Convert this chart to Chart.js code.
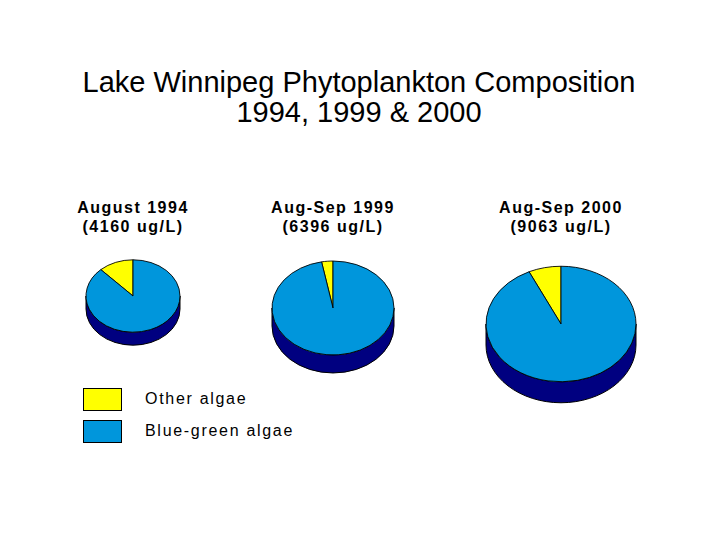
<!DOCTYPE html>
<html>
<head>
<meta charset="utf-8">
<script src="https://cdn.jsdelivr.net/npm/chart.js@4.4.1/dist/chart.umd.min.js"></script>
<style>
  body { margin: 0; background: #fff; }
  #page { position: relative; width: 720px; height: 540px; overflow: hidden; background: #fff;
          font-family: "Liberation Sans", Arial, sans-serif; color: #000; }
  .title { position: absolute; left: 0; width: 718px; text-align: center; font-size: 29px; line-height: 30px; }
  .sub { position: absolute; width: 200px; text-align: center; font-size: 16px; font-weight: bold;
         line-height: 19px; letter-spacing: 1.5px; }
  .pie { position: absolute; }
  .box { position: absolute; left: 83px; width: 37px; border: 1px solid #000; }
  .leg { position: absolute; left: 145px; font-size: 16px; line-height: 20px; letter-spacing: 1.7px; }
</style>
</head>
<body>
<div id="page">
  <div class="title" style="top:67px">Lake Winnipeg Phytoplankton Composition<br>1994, 1999 &amp; 2000</div>
  <div id="subs"></div>
  <canvas id="pie0" class="pie"></canvas>
  <canvas id="pie1" class="pie"></canvas>
  <canvas id="pie2" class="pie"></canvas>
  <div id="legend"></div>
</div>
<script>
// --- Data ---
const periods = ['August 1994', 'Aug-Sep 1999', 'Aug-Sep 2000'];
const totals = [4160, 6396, 9063];            // ug/L
const categories = ['Other algae', 'Blue-green algae'];
const otherAlgae = [12, 3, 7];                // percent of total
const blueGreenAlgae = [88, 97, 93];          // percent of total
const sliceColors = ['#ffff00', '#0096dc'];

// --- Layout (where each pie sits on the page) ---
const pieCenters = [[133, 296], [333, 308], [561, 324]];
const pieRadius = [47, 61, 75];
const pieDepth = [13, 18, 21];
const squash = 0.77;
const pad = 20;

// fake the 3D look: draw the rim, then squash the top face
const tiltPlugin = {
  id: 'tilt',
  beforeDatasetsDraw(chart, args, opts) {
    const arc = chart.getDatasetMeta(0).data[0];
    const ctx = chart.ctx;
    const cx = arc.x, cy = arc.y, r = arc.outerRadius;
    const ry = r * opts.squash, d = opts.depth;

    ctx.save();
    ctx.beginPath();
    ctx.moveTo(cx - r, cy);
    ctx.lineTo(cx - r, cy + d);
    ctx.ellipse(cx, cy + d, r, ry, 0, Math.PI, 0, true);
    ctx.lineTo(cx + r, cy);
    ctx.ellipse(cx, cy, r, ry, 0, 0, Math.PI, false);
    ctx.closePath();
    ctx.fillStyle = '#000080';
    ctx.fill();
    ctx.lineWidth = 1;
    ctx.strokeStyle = '#000';
    ctx.stroke();
    ctx.restore();

    ctx.save();
    ctx.translate(cx, cy);
    ctx.scale(1, opts.squash);
    ctx.translate(-cx, -cy);
  },
  afterDatasetsDraw(chart) {
    chart.ctx.restore();
  }
};

const subs = document.getElementById('subs');

periods.forEach(function (label, i) {
  const [cx, cy] = pieCenters[i];
  const r = pieRadius[i];
  const size = 2 * (r + pad);

  // heading above each pie
  const sub = document.createElement('div');
  sub.className = 'sub';
  sub.style.left = (cx - 100) + 'px';
  sub.style.top = '198px';
  sub.innerHTML = label + '<br>(' + totals[i] + ' ug/L)';
  subs.appendChild(sub);

  const canvas = document.getElementById('pie' + i);
  canvas.width = size;
  canvas.height = size;
  canvas.style.left = (cx - size / 2) + 'px';
  canvas.style.top = (cy - size / 2) + 'px';

  new Chart(canvas.getContext('2d'), {
    type: 'pie',
    data: {
      labels: categories,
      datasets: [{
        data: [otherAlgae[i], blueGreenAlgae[i]],
        backgroundColor: sliceColors,
        borderColor: '#000',
        borderWidth: 1,
        radius: r
      }]
    },
    options: {
      responsive: false,
      animation: false,
      events: [],
      rotation: -otherAlgae[i] / 100 * 360,
      layout: { padding: 0 },
      plugins: {
        legend: { display: false },
        tooltip: { enabled: false },
        tilt: { squash: squash, depth: pieDepth[i] }
      }
    },
    plugins: [tiltPlugin]
  });
});

// legend at the lower left
const legend = document.getElementById('legend');
const legendRows = [388, 420];
categories.forEach(function (name, i) {
  const box = document.createElement('div');
  box.className = 'box';
  box.style.top = legendRows[i] + 'px';
  box.style.height = '21px';
  box.style.background = sliceColors[i];
  legend.appendChild(box);

  const txt = document.createElement('div');
  txt.className = 'leg';
  txt.style.top = (legendRows[i] + 0.5) + 'px';
  txt.textContent = name;
  legend.appendChild(txt);
});
</script>
</body>
</html>
